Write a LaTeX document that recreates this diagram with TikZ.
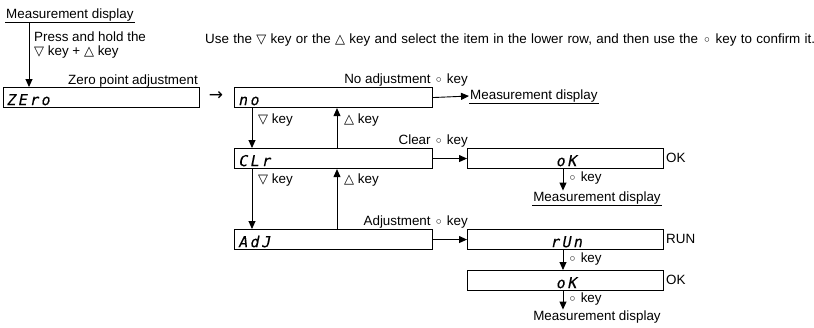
\documentclass[tikz,border=0pt]{standalone}
\usepackage{fontspec}
\setmainfont{Liberation Sans}
\newfontfamily\symf{DejaVu Sans}
\newfontfamily\segf[FakeSlant=0.2,FakeBold=0.2]{DejaVu Sans Mono}
\usetikzlibrary{arrows.meta}
\newcommand\dkey{{\symf\fontsize{13}{13}\selectfont ▽}}
\newcommand\ukey{{\symf\fontsize{13}{13}\selectfont △}}
\newcommand\okey{\raisebox{-2.2pt}{\symf\fontsize{15}{15}\selectfont ◦}}
\newcommand\segc[1]{\makebox[11.5pt][l]{#1}}
\begin{document}
\begin{tikzpicture}[x=1pt,y=-1pt,
  font=\fontsize{13.4}{13.5}\selectfont,
  box/.style={draw, line width=1.1pt, minimum width=196pt, minimum height=20pt, inner sep=0pt, anchor=north west},
  seg/.style={font=\segf\fontsize{15}{15}\selectfont, inner sep=0pt},
  txt/.style={inner sep=1pt},
  arr/.style={-{Triangle[length=8pt,width=7pt]}, line width=0.9pt},
  ul/.style={line width=0.9pt}]
\useasboundingbox (0,0) rectangle (814,327);

% top left
\node[txt, anchor=west] (md0) at (5,15) {Measurement display};
\draw[ul] (md0.south west) -- (md0.south east);
\coordinate (x0) at (29,0);
\node[box] (zero) at (3,87) {};
\draw[arr] (md0.south -| x0) -- (zero.north -| x0);
\node[txt, anchor=north west, align=left] (ph) at (33,31) {Press and hold the\\\dkey\ key + \ukey\ key};
\node[txt, anchor=base east] (zpa) at (199,84) {Zero point adjustment};
\node[seg, anchor=base west] (zerot) at ([shift={(3,-3)}]zero.south west) {\segc{Z}\segc{E}\segc{r}\segc{o}};
\node[txt, font=\symf\fontsize{17}{17}\selectfont] (arrow) at (216,96) {→};

% instruction
\node[txt, anchor=base west] (inst) at (204,43) {\spaceskip=4.35pt\relax Use the \dkey\ key or the \ukey\ key and select the item in the lower row, and then use the \okey\ key to confirm it.};

% middle column
\node[box, minimum width=198pt] (no) at (234,87) {};
\node[box, minimum width=198pt] (clr) at (234,148) {};
\node[box, minimum width=198pt] (adj) at (234,229) {};
\node[seg, anchor=base west] (not) at ([shift={(4,-3)}]no.south west) {\segc{n}\segc{o}};
\node[seg, anchor=base west] (clrt) at ([shift={(4,-3)}]clr.south west) {\segc{C}\segc{L}\segc{r}};
\node[seg, anchor=base west] (adjt) at ([shift={(4,-3)}]adj.south west) {\segc{A}\segc{d}\segc{J}};

\coordinate (xd) at (252,0);
\coordinate (xu) at (337,0);
\draw[arr] (no.south -| xd) -- (clr.north -| xd);
\draw[arr] (clr.south -| xd) -- (adj.north -| xd);
\draw[arr] (clr.north -| xu) -- (no.south -| xu);
\draw[arr] (adj.north -| xu) -- (clr.south -| xu);
\node[txt, anchor=west] (d1) at (257,120) {\dkey\ key};
\node[txt, anchor=west] (d2) at (257,180) {\dkey\ key};
\node[txt, anchor=west] (u1) at (343,120) {\ukey\ key};
\node[txt, anchor=west] (u2) at (343,180) {\ukey\ key};

\node[txt, anchor=base east] (l1) at (469,83) {No adjustment \okey\ key};
\node[txt, anchor=base east] (l2) at (469,144) {Clear \okey\ key};
\node[txt, anchor=base east] (l3) at (469,225) {Adjustment \okey\ key};

% right column
\node[txt, anchor=west] (md1) at (469,96) {Measurement display};
\draw[ul] (md1.south west) -- (md1.south east);
\node[box] (ok1) at (467,148) {};
\node[box] (run) at (467,229) {};
\node[box] (ok2) at (467,270) {};
\node[seg, anchor=base] (ok1t) at ([shift={(0,-3)}]ok1.south) {\segc{o}\makebox[8pt][l]{K}};
\node[seg, anchor=base] (runt) at ([shift={(0,-3)}]run.south) {\segc{r}\segc{U}\makebox[8pt][l]{n}};
\node[seg, anchor=base] (ok2t) at ([shift={(0,-3)}]ok2.south) {\segc{o}\makebox[8pt][l]{K}};
\draw[arr] (no.east) -- (md1.west);
\draw[arr] (clr.east) -- (ok1.west);
\draw[arr] (adj.east) -- (run.west);
\node[txt, anchor=west] (okl1) at (665,158) {OK};
\node[txt, anchor=west] (runl) at (665,239) {RUN};
\node[txt, anchor=west] (okl2) at (665,280) {OK};

\coordinate (xk) at (563,0);
\node[txt] (md2) at (597,198) {Measurement display};
\draw[ul] (md2.south west) -- (md2.south east);
\node[txt] (md3) at (597,317) {Measurement display};
\draw[arr] (ok1.south -| xk) -- (md2.north -| xk);
\draw[arr] (run.south -| xk) -- (ok2.north -| xk);
\draw[arr] (ok2.south -| xk) -- (md3.north -| xk);
\node[txt, anchor=west] (k1) at (567,178) {\okey\ key};
\node[txt, anchor=west] (k2) at (567,259) {\okey\ key};
\node[txt, anchor=west] (k3) at (567,299) {\okey\ key};
\end{tikzpicture}
\end{document}
